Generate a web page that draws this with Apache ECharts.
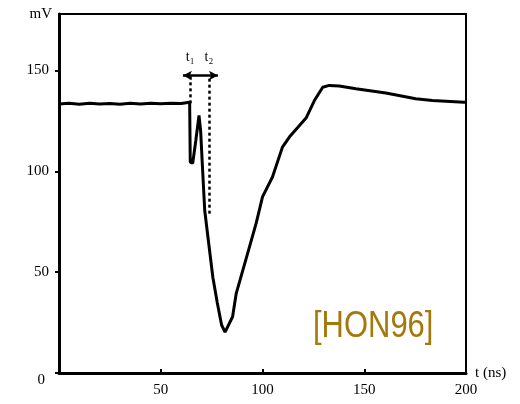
<!DOCTYPE html>
<html>
<head>
<meta charset="utf-8">
<script src="https://cdn.jsdelivr.net/npm/echarts@6/dist/echarts.min.js"></script>
<style>
html,body{margin:0;padding:0;background:#fff;}
#chart{width:520px;height:404px;}
</style>
</head>
<body>
<div id="chart"></div>
<script>
// time axis (ns)
var timeNs = [0, 5, 10, 15, 20, 25, 30, 35, 40, 45, 50, 55, 60, 64.2,
  64.5, 65.7, 67.2, 68.8, 69.6, 70.4, 71.6, 73.2, 75.6, 77.8, 79.9, 81.6,
  85.3, 87.1, 93.6, 96.9, 100, 104.9, 109.8, 113.2, 121.4, 125.5, 129.6,
  132.8, 137.7, 145.9, 160.6, 175.3, 183.5, 199, 200];
// voltage (mV)
var voltageMv = [133.4, 133.7, 133.3, 133.8, 133.4, 133.6, 133.2, 133.7, 133.4, 133.8, 133.5, 133.8, 133.6, 134.2,
  104.6, 104, 115, 127.7, 120, 104, 80.7, 67.3, 47.5, 34.7, 23.8, 20.3,
  27.9, 39.5, 62.5, 74.3, 87.3, 97.2, 112, 117, 126.4, 135.1, 141.7,
  142.6, 142.3, 140.9, 138.8, 136, 135.1, 134.3, 134.3];
var xTicks = [0, 50, 100, 150, 200];
var yTicks = [0, 50, 100, 150];
// annotation markers (data coordinates)
var t1 = 64.5, t2 = 73.7;
var arrowLevel = 147.5, arrowFrom = 60.9, arrowTo = 78.1;
var t1Bottom = 133.7, t2Bottom = 79;
var sourceTag = '[HON96]';

var curve = timeNs.map(function (t, i) { return [t, voltageMv[i]]; });

var chart = echarts.init(document.getElementById('chart'), null, {renderer: 'canvas'});
var serif = 'Liberation Serif, Times New Roman, serif';
chart.setOption({
  animation: false,
  backgroundColor: '#fff',
  grid: {left: 59, right: 54, top: 14, bottom: 31, show: true, borderColor: '#000', borderWidth: 2},
  xAxis: {
    type: 'value', min: 0, max: 200, interval: 50,
    name: 't (ns)', nameLocation: 'end', nameGap: 9,
    nameTextStyle: {fontFamily: serif, fontSize: 15, color: '#000', padding: [0, 0, 8, 0]},
    axisLine: {show: true, lineStyle: {color: '#000', width: 3}},
    axisTick: {show: true, inside: true, length: 4, lineStyle: {color: '#000', width: 2}},
    axisLabel: {fontFamily: serif, fontSize: 15, color: '#000', margin: 10,
      formatter: function (v) { return (v === 0 || xTicks.indexOf(v) < 0) ? '' : String(v); }},
    splitLine: {show: false}
  },
  yAxis: {
    type: 'value', min: 0, max: 178, interval: 50,
    name: 'mV', nameLocation: 'end', nameGap: 0,
    nameTextStyle: {fontFamily: serif, fontSize: 15, color: '#000', align: 'right', verticalAlign: 'middle', padding: [0, 7, 0, 0]},
    axisLine: {show: true, lineStyle: {color: '#000', width: 3}},
    axisTick: {show: true, inside: false, length: 4, lineStyle: {color: '#000', width: 2}},
    axisLabel: {fontFamily: serif, fontSize: 15, color: '#000', margin: 10, showMaxLabel: false,
      formatter: function (v) {
        if (yTicks.indexOf(v) < 0) return '';
        return v === 0 ? '{z|0}' : String(v);
      },
      rich: {z: {fontFamily: serif, fontSize: 15, color: '#000', padding: [14, 4, 0, 0]}}
    },
    splitLine: {show: false}
  },
  series: [
    {
      type: 'line', data: curve, showSymbol: false, smooth: false,
      lineStyle: {color: '#000', width: 3}, silent: true,
      markLine: {
        silent: true, symbol: 'none', animation: false,
        lineStyle: {color: '#000', width: 2.5, type: [3, 3]},
        label: {show: true, position: 'end', distance: 11, fontFamily: serif, fontSize: 14, color: '#000'},
        data: [
          [{coord: [t1, t1Bottom]}, {coord: [t1, arrowLevel], label: {formatter: 't\u2081'}}],
          [{coord: [t2, t2Bottom]}, {coord: [t2, arrowLevel], label: {formatter: 't\u2082'}}]
        ]
      }
    },
    {
      type: 'line', data: [], silent: true,
      markLine: {
        silent: true, animation: false, symbol: ['arrow', 'arrow'], symbolSize: [7, 9],
        lineStyle: {color: '#000', width: 2.5, type: 'solid'},
        label: {show: false},
        data: [[{coord: [arrowFrom, arrowLevel]}, {coord: [arrowTo, arrowLevel]}]]
      }
    }
  ],
  graphic: [{
    type: 'text', x: 313, y: 309, scaleX: 0.86,
    style: {text: sourceTag, fill: '#a5780c', font: '36px "Liberation Sans", Arial, sans-serif'}
  }]
});
</script>
</body>
</html>
